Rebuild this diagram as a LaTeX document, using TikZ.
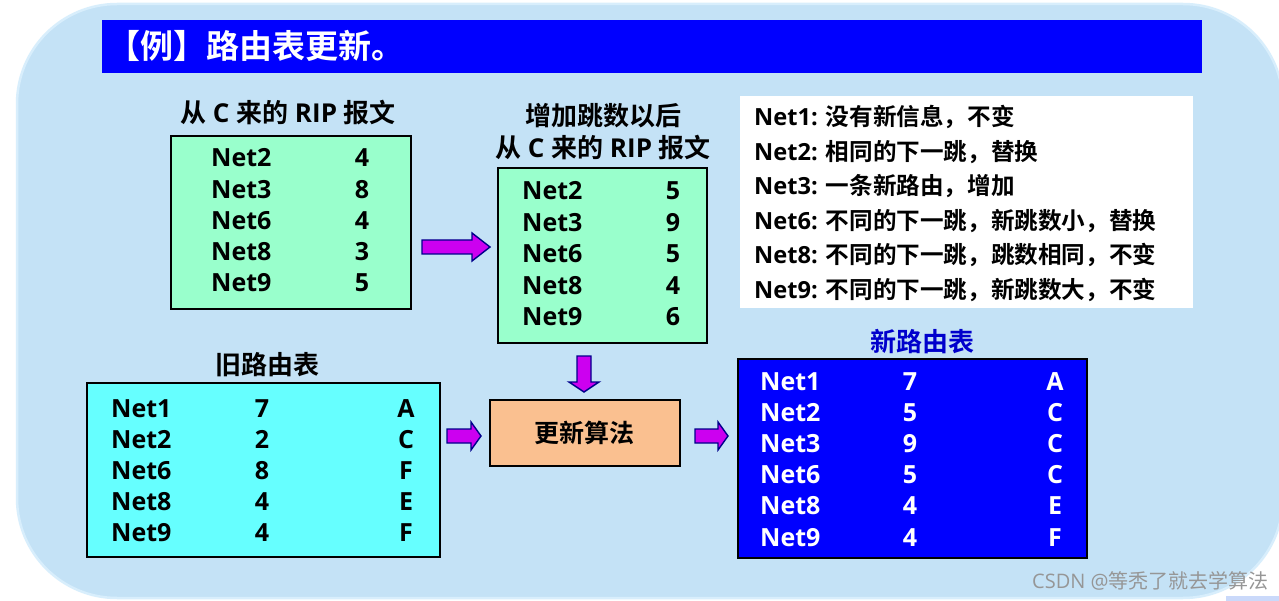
\documentclass[tikz,border=0pt]{standalone}
\usepackage{fontspec}
\setmainfont{Open Sans}
\newfontfamily\cjk{Noto Sans CJK SC}[BoldFont={Noto Sans CJK SC Bold}]
\definecolor{bgblue}{RGB}{196,226,246}
\definecolor{bgedge}{RGB}{216,238,252}
\definecolor{titleblue}{RGB}{0,0,255}
\definecolor{greenfill}{RGB}{153,255,204}
\definecolor{cyanfill}{RGB}{102,255,255}
\definecolor{orangefill}{RGB}{250,192,144}
\definecolor{arrowfill}{RGB}{204,0,240}
\definecolor{arrowline}{RGB}{0,0,140}
\definecolor{labelblue}{RGB}{0,0,204}
\definecolor{markgray}{RGB}{150,150,150}
\begin{document}
\begin{tikzpicture}[x=1pt,y=-1pt,
  tbox/.style={draw=black, line width=1.6pt, anchor=north west, inner sep=0},
  rowtxt/.style={inner sep=0, font=\fontsize{25}{30}\selectfont\bfseries},
  lbl/.style={inner sep=0, anchor=base, font=\fontsize{26}{30}\selectfont\bfseries},
  note/.style={inner sep=0, anchor=base west, font=\fontsize{23.6}{28}\selectfont\bfseries},
  barrow/.style={fill=arrowfill, draw=arrowline, line width=1.4pt, line join=miter}]
\useasboundingbox (0,0) rectangle (1279,601);
\fill[white] (0,0) rectangle (1279,601);
% background panel
\draw[fill=bgblue, draw=bgedge, line width=2.5pt, rounded corners=100pt] (17,4) rectangle (1283,598);
\fill[bgblue!85!blue!60!white] (1226,596) rectangle (1279,601);
% title bar
\fill[titleblue] (102,20) rectangle (1202,73);
\node[inner sep=0, anchor=base west, text=white, font=\fontsize{33}{36}\selectfont\bfseries\cjk] (title) at (107,59) {【例】路由表更新。};
% labels
\node[lbl] (lab1) at (288,123) {{\cjk 从} C {\cjk 来的} RIP {\cjk 报文}};
\node[lbl] (lab2a) at (603,126) {\cjk 增加跳数以后};
\node[lbl] (lab2b) at (603,158) {{\cjk 从} C {\cjk 来的} RIP {\cjk 报文}};
\node[lbl] (lab3) at (267,374) {\cjk 旧路由表};
\node[lbl, text=labelblue] (lab4) at (922,352) {\cjk 新路由表};
% boxes
\node[tbox, fill=greenfill, minimum width=240, minimum height=173] (rip) at (170,135) {};
\node[tbox, fill=greenfill, minimum width=209, minimum height=175] (rip2) at (497,167) {};
\node[inner sep=0, anchor=north west, fill=white, minimum width=453, minimum height=212] (notes) at (740,96) {};
\node[tbox, fill=cyanfill, minimum width=353, minimum height=174] (old) at (86,382) {};
\node[tbox, fill=orangefill, minimum width=190, minimum height=66] (alg) at (489,399) {};
\node[tbox, fill=titleblue, minimum width=349, minimum height=199] (new) at (737,358) {};
\node[inner sep=0, font=\fontsize{25}{30}\selectfont\bfseries\cjk] (algt) at (alg.center) {更新算法};
% table 1
\foreach \n/\v [count=\i from 0] in {Net2/4,Net3/8,Net6/4,Net8/3,Net9/5}{
  \node[rowtxt, anchor=base west] (ra\i) at (211,167+31.25*\i) {\n};
  \node[rowtxt, anchor=base] (rav\i) at (362,167+31.25*\i) {\v};
}
% table 2
\foreach \n/\v [count=\i from 0] in {Net2/5,Net3/9,Net6/5,Net8/4,Net9/6}{
  \node[rowtxt, anchor=base west] (rb\i) at (522,200+31.5*\i) {\n};
  \node[rowtxt, anchor=base] (rbv\i) at (673,200+31.5*\i) {\v};
}
% old table
\foreach \n/\v/\h [count=\i from 0] in {Net1/7/A,Net2/2/C,Net6/8/F,Net8/4/E,Net9/4/F}{
  \node[rowtxt, anchor=base west] (oc\i) at (111,417+31*\i) {\n};
  \node[rowtxt, anchor=base] (ocv\i) at (262,417+31*\i) {\v};
  \node[rowtxt, anchor=base] (och\i) at (406,417+31*\i) {\h};
}
% new table
\foreach \n/\v/\h [count=\i from 0] in {Net1/7/A,Net2/5/C,Net3/9/C,Net6/5/C,Net8/4/E,Net9/4/F}{
  \node[rowtxt, anchor=base west, text=white] (nc\i) at (760,390+31.2*\i) {\n};
  \node[rowtxt, anchor=base, text=white] (ncv\i) at (910,390+31.2*\i) {\v};
  \node[rowtxt, anchor=base, text=white] (nch\i) at (1055,390+31.2*\i) {\h};
}
% notes
\node[note] (n1) at (754,126) {Net1: {\cjk 没有新信息，不变}};
\node[note] (n2) at (754,161) {Net2: {\cjk 相同的下一跳，替换}};
\node[note] (n3) at (754,195) {Net3: {\cjk 一条新路由，增加}};
\node[note] (n4) at (754,230) {Net6: {\cjk 不同的下一跳，新跳数小，替换}};
\node[note] (n5) at (754,264) {Net8: {\cjk 不同的下一跳，跳数相同，不变}};
\node[note] (n6) at (754,299) {Net9: {\cjk 不同的下一跳，新跳数大，不变}};
% block arrows
\draw[barrow] (422,240) -- (472,240) -- (472,233) -- (490,247) -- (472,261) -- (472,254) -- (422,254) -- cycle;
\draw[barrow] (577,356) -- (591,356) -- (591,382) -- (599,382) -- (584,392) -- (569,382) -- (577,382) -- cycle;
\draw[barrow] (447,429) -- (471,429) -- (471,422) -- (481,436) -- (471,450) -- (471,443) -- (447,443) -- cycle;
\draw[barrow] (695,429) -- (718,429) -- (718,422) -- (728,436) -- (718,450) -- (718,443) -- (695,443) -- cycle;
% watermark
\node[inner sep=0, anchor=base west, text=markgray, font=\fontsize{20}{22}\selectfont] (wm) at (1032,588) {CSDN @{\cjk 等秃了就去学算法}};
\end{tikzpicture}
\end{document}
